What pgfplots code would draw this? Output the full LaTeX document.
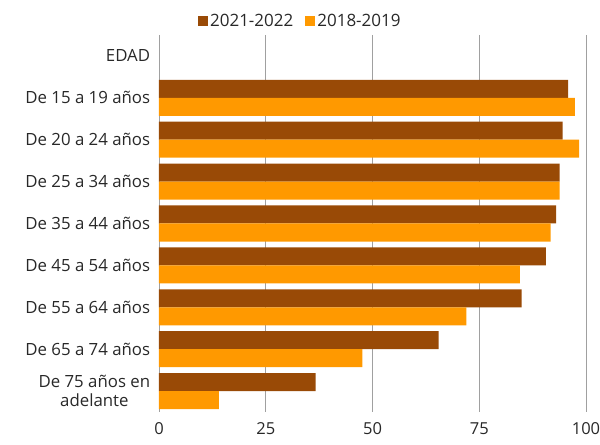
\documentclass[border=0pt]{standalone}
\usepackage{pgfplots}
\pgfplotsset{compat=1.18}
\usepackage{fontspec}
\setmainfont{Open Sans}
\definecolor{darkbar}{RGB}{153,74,6}
\definecolor{orangebar}{RGB}{255,153,0}
\definecolor{gridgray}{RGB}{160,160,160}
\definecolor{txt}{RGB}{40,40,40}

\begin{document}
\fontsize{17}{19}\selectfont
\begin{tikzpicture}
\begin{axis}[
    scale only axis,
    width=427pt, height=377pt,
    xbar=0pt,
    bar width=0.43,
    xmin=0, xmax=100,
    ymin=-0.5, ymax=8.5,
    y dir=reverse,
    xtick={0,25,50,75,100},
    ytick={0,...,8},
    yticklabels={EDAD,De 15 a 19 años,De 20 a 24 años,De 25 a 34 años,De 35 a 44 años,De 45 a 54 años,De 55 a 64 años,De 65 a 74 años,{De 75 años en\\adelante}},
    yticklabel style={align=center, text=txt, font=\fontsize{16.8}{19}\selectfont, xshift=-3pt},
    xticklabel style={text=txt, yshift=-5pt, font=\fontsize{16.5}{18}\selectfont},
    /pgf/number format/assume math mode=true,
    major tick length=0pt,
    axis line style={draw=none},
    xmajorgrids,
    grid style={gridgray, line width=0.8pt},
    legend style={at={(0.331,1.0)}, anchor=south, yshift=2pt, draw=none, fill=none,
        legend columns=2, /tikz/every even column/.append style={column sep=10pt},
        text=txt, font=\fontsize{17}{19}\selectfont},
    legend image code/.code={\fill[#1] (0pt,-5pt) rectangle (10pt,5pt);},
]
\addplot[fill=darkbar, draw=none, bar shift=-0.215] coordinates {
    (95.8,1) (94.5,2) (93.8,3) (93.0,4) (90.6,5) (84.9,6) (65.5,7) (36.7,8)
};
\addplot[fill=orangebar, draw=none, bar shift=0.215] coordinates {
    (97.4,1) (98.4,2) (93.8,3) (91.7,4) (84.5,5) (72.0,6) (47.6,7) (14.0,8)
};
\legend{2021-2022,2018-2019}
\end{axis}
\pgfresetboundingbox
\path (current axis.south west) ++(-159pt,-33pt) coordinate (bl);
\path (current axis.north east) ++(14pt,35pt) coordinate (tr);
\useasboundingbox (bl) rectangle (tr);
\end{tikzpicture}
\end{document}
